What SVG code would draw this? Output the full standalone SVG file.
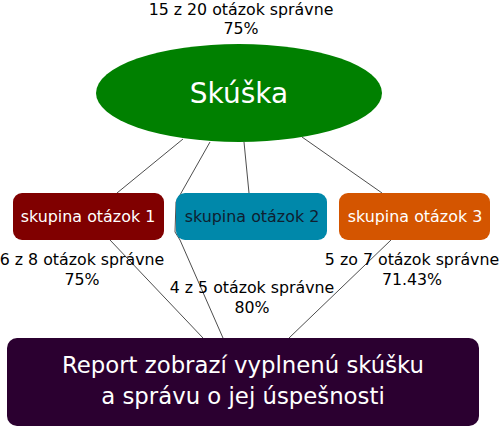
<svg xmlns="http://www.w3.org/2000/svg" width="500" height="427" viewBox="0 0 500 427">
<style>
text{font-family:"DejaVu Sans",sans-serif;text-anchor:middle}
.lbl{font-size:15.8px;fill:#000}
.grp{font-size:15.9px;fill:#fff}
.conn{fill:none;stroke:#000;stroke-width:0.7}
</style>
<rect width="500" height="427" fill="#fff"/>
<g id="connectors">
<path class="conn" d="M183,139 L117,193"/>
<path class="conn" d="M210,142 L176,202 L175,232 L180,240 L223,338"/>
<path class="conn" d="M244,142 L249,193"/>
<path class="conn" d="M302,137 L382,193"/>
<path class="conn" d="M110,240 L203,338"/>
<path class="conn" d="M391,240 L289,338"/>
</g>
<g id="skuska">
<ellipse cx="239" cy="93" rx="143" ry="49" fill="#008000"/>
<text x="239" y="103" style="font-size:28px;fill:#fff">Skúška</text>
<text class="lbl" x="241" y="15">15 z 20 otázok správne</text>
<text class="lbl" x="241" y="34">75%</text>
</g>
<g id="skupina1">
<rect x="13" y="193" width="151" height="47" rx="9" fill="#800000"/>
<text class="grp" x="88" y="222">skupina otázok 1</text>
<text class="lbl" x="82" y="265">6 z 8 otázok správne</text>
<text class="lbl" x="82" y="285">75%</text>
</g>
<g id="skupina2">
<rect x="176" y="193" width="151" height="47" rx="9" fill="#0088aa"/>
<text class="grp" x="252" y="222" style="fill:#0f2030">skupina otázok 2</text>
<text class="lbl" x="252" y="293">4 z 5 otázok správne</text>
<text class="lbl" x="252" y="313">80%</text>
</g>
<g id="skupina3">
<rect x="339" y="193" width="151" height="47" rx="9" fill="#d45500"/>
<text class="grp" x="415" y="222">skupina otázok 3</text>
<text class="lbl" x="412" y="265">5 zo 7 otázok správne</text>
<text class="lbl" x="412" y="285">71.43%</text>
</g>
<g id="report">
<rect x="7" y="338" width="472" height="88" rx="10" fill="#2b0030"/>
<text x="243" y="373" style="font-size:22.8px;fill:#fff">Report zobrazí vyplnenú skúšku</text>
<text x="243" y="404" style="font-size:22.8px;fill:#fff">a správu o jej úspešnosti</text>
</g>
</svg>
